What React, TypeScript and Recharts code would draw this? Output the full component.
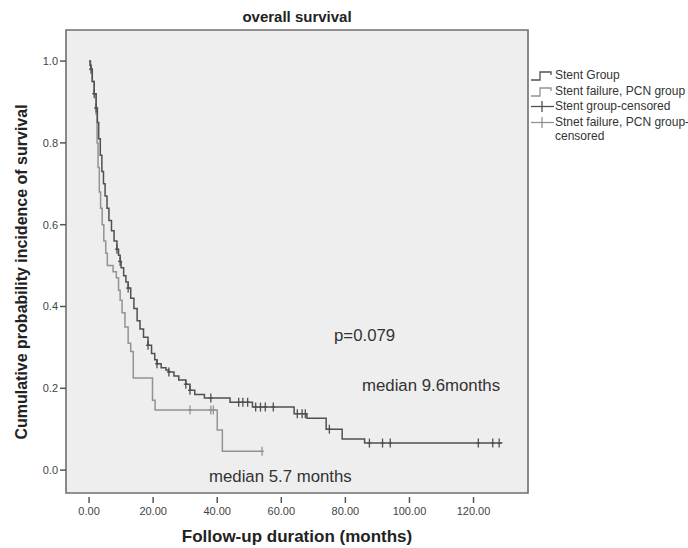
import React from 'react';
import { ComposedChart, Line, Scatter, XAxis, YAxis, CartesianGrid, ReferenceArea } from 'recharts';

// Kaplan-Meier estimates (months, survival probability)
const stentTimes = [0, 0.3, 0.6, 1.0, 1.6, 2.2, 2.6, 3.0, 3.5, 4.0, 4.5, 5.0, 5.6, 6.2, 7.0, 7.8, 8.7, 9.2, 9.7, 10.0, 10.8, 11.5, 12.2, 13.0, 14.0, 15.0, 15.9, 17.0, 18.4, 19.5, 20.5, 21.2, 22.5, 24.0, 24.9, 26.5, 28.0, 30.2, 31.5, 33.0, 36.0, 44.0, 51.0, 64.0, 68.0, 74.0, 79.0, 86.0, 129.0];
const stentSurvival = [1.0, 0.99, 0.98, 0.95, 0.92, 0.885, 0.85, 0.81, 0.77, 0.73, 0.70, 0.67, 0.64, 0.61, 0.585, 0.56, 0.54, 0.525, 0.51, 0.495, 0.475, 0.46, 0.445, 0.42, 0.395, 0.365, 0.345, 0.325, 0.305, 0.285, 0.27, 0.26, 0.25, 0.245, 0.24, 0.23, 0.22, 0.21, 0.195, 0.185, 0.176, 0.166, 0.154, 0.138, 0.127, 0.10, 0.076, 0.066, 0.066];

const pcnTimes = [0, 0.5, 1.0, 1.6, 2.2, 2.5, 2.8, 3.2, 3.6, 4.1, 4.6, 5.2, 5.7, 7.5, 8.5, 9.2, 9.7, 10.3, 11.2, 12.2, 13.0, 13.8, 19.8, 20.6, 40.0, 41.6, 54.0];
const pcnSurvival = [1.0, 0.98, 0.95, 0.92, 0.87, 0.80, 0.74, 0.68, 0.64, 0.60, 0.56, 0.53, 0.50, 0.485, 0.47, 0.44, 0.415, 0.385, 0.35, 0.31, 0.29, 0.225, 0.171, 0.147, 0.098, 0.046, 0.046];

const stentCensorTimes = [0.6, 1.6, 2.2, 8.7, 9.7, 12.2, 18.4, 21.2, 24.9, 30.2, 31.5, 38.0, 46.7, 48.0, 49.5, 52.0, 53.5, 55.0, 57.5, 65.0, 66.5, 67.5, 75.0, 87.5, 91.6, 94.0, 121.5, 126.0, 128.0];
const stentCensorSurvival = [0.98, 0.92, 0.885, 0.54, 0.51, 0.445, 0.305, 0.26, 0.24, 0.21, 0.195, 0.176, 0.166, 0.166, 0.166, 0.154, 0.154, 0.154, 0.154, 0.138, 0.138, 0.138, 0.10, 0.066, 0.066, 0.066, 0.066, 0.066, 0.066];

const pcnCensorTimes = [31.5, 38.0, 38.8, 54.0];
const pcnCensorSurvival = [0.147, 0.147, 0.147, 0.046];

const xTicks = [0, 20, 40, 60, 80, 100, 120];
const yTicks = [0, 0.2, 0.4, 0.6, 0.8, 1.0];

const legendLabels = ['Stent Group', 'Stent failure, PCN group', 'Stent group-censored', 'Stnet failure, PCN group-', 'censored'];

const toRows = (ts: number[], vs: number[]) => ts.map((t, i) => ({ t, v: vs[i] }));
const stentData = toRows(stentTimes, stentSurvival);
const pcnData = toRows(pcnTimes, pcnSurvival);
const stentCensorData = toRows(stentCensorTimes, stentCensorSurvival);
const pcnCensorData = toRows(pcnCensorTimes, pcnCensorSurvival);

const X_MIN = -7.2;
const X_MAX = 137;
const Y_MIN = -0.056;
const Y_MAX = 1.076;

const DARK = '#505050';
const LIGHT = '#939393';
const FONT = '"Liberation Sans", Arial, sans-serif';

const censorShape = (color: string) => (props: any) => {
  const { cx, cy } = props;
  if (cx == null || cy == null) return <g />;
  return (
    <g>
      <line x1={cx} x2={cx} y1={cy - 4.5} y2={cy + 4.5} stroke={color} strokeWidth={1.3} />
      <line x1={cx - 2} x2={cx + 2} y1={cy} y2={cy} stroke={color} strokeWidth={1.3} />
    </g>
  );
};

const XTick = (props: any) => {
  const { x, y, payload } = props;
  return (
    <g>
      <line x1={x} x2={x} y1={y + 4} y2={y + 10} stroke="#555" strokeWidth={1.5} />
      <text x={x} y={y + 22} textAnchor="middle" fontSize={11} fill="#444" fontFamily={FONT}>
        {Number(payload.value).toFixed(2)}
      </text>
    </g>
  );
};

const StepIcon = ({ color }: { color: string }) => (
  <svg width={25} height={13} style={{ display: 'block', flex: 'none' }}>
    <path d="M1,11 H10 V3 H21 V6" stroke={color} strokeWidth={1.3} fill="none" />
  </svg>
);
const CensorIcon = ({ color }: { color: string }) => (
  <svg width={25} height={13} style={{ display: 'block', flex: 'none' }}>
    <line x1={1} x2={24} y1={6.5} y2={6.5} stroke={color} strokeWidth={1.3} />
    <line x1={12} x2={12} y1={1} y2={12} stroke={color} strokeWidth={1.3} />
  </svg>
);

const abs = (left: number, top: number, extra: React.CSSProperties = {}): React.CSSProperties => ({
  position: 'absolute',
  left,
  top,
  fontFamily: FONT,
  color: '#333',
  whiteSpace: 'nowrap',
  ...extra,
});

const rowStyle: React.CSSProperties = { display: 'flex', alignItems: 'center', height: 13, marginBottom: 2.5 };
const textStyle: React.CSSProperties = { whiteSpace: 'nowrap' };

export default function App() {
  return (
    <div style={{ position: 'absolute', left: 0, top: 0, width: 688, height: 548, background: '#fff', overflow: 'hidden' }}>
      <ComposedChart
        width={688}
        height={548}
        margin={{ top: 30, right: 160, bottom: 25, left: 0 }}
      >
        <CartesianGrid fill="#eeeeee" stroke="#e6e6e6" horizontal={false} vertical={false} />
        <XAxis
          dataKey="t"
          type="number"
          domain={[X_MIN, X_MAX]}
          ticks={xTicks}
          allowDataOverflow
          axisLine={false}
          tickLine={false}
          tickSize={0}
          tickMargin={0}
          height={30}
          tick={<XTick />}
        />
        <YAxis
          type="number"
          domain={[Y_MIN, Y_MAX]}
          ticks={yTicks}
          allowDataOverflow
          width={66}
          axisLine={false}
          tickLine={{ stroke: '#555', strokeWidth: 1.5 }}
          tickSize={6}
          tickMargin={2}
          tick={{ fontSize: 11, fill: '#444', fontFamily: FONT }}
          tickFormatter={(v: number) => v.toFixed(1)}
        />
        <Line
          data={pcnData}
          dataKey="v"
          type="stepAfter"
          stroke={LIGHT}
          strokeWidth={1.5}
          dot={false}
          isAnimationActive={false}
        />
        <Line
          data={stentData}
          dataKey="v"
          type="stepAfter"
          stroke={DARK}
          strokeWidth={1.5}
          dot={false}
          isAnimationActive={false}
        />
        <Scatter data={pcnCensorData} dataKey="v" shape={censorShape(LIGHT)} isAnimationActive={false} />
        <Scatter data={stentCensorData} dataKey="v" shape={censorShape(DARK)} isAnimationActive={false} />
        <ReferenceArea
          x1={X_MIN}
          x2={X_MAX}
          y1={Y_MIN}
          y2={Y_MAX}
          ifOverflow="visible"
          fill="none"
          fillOpacity={0}
          stroke="#6f6f6f"
          strokeWidth={1.6}
        />
      </ComposedChart>

      <div style={abs(66, 8, { width: 462, textAlign: 'center', fontSize: 15, lineHeight: '18px', fontWeight: 'bold', color: '#222' })}>
        overall survival
      </div>
      <div style={abs(66, 527, { width: 462, textAlign: 'center', fontSize: 17, lineHeight: '20px', fontWeight: 'bold', color: '#222' })}>
        Follow-up duration (months)
      </div>
      <div
        style={abs(22, 272, {
          fontSize: 16,
          lineHeight: '18px',
          fontWeight: 'bold',
          color: '#222',
          transform: 'translate(-50%, -50%) rotate(-90deg)',
        })}
      >
        Cumulative probability incidence of survival
      </div>

      <div style={abs(334, 326, { fontSize: 16.8, lineHeight: '20px' })}>p=0.079</div>
      <div style={abs(362, 376, { fontSize: 16.8, lineHeight: '20px' })}>median 9.6months</div>
      <div style={abs(209, 467, { fontSize: 16.8, lineHeight: '20px' })}>median 5.7 months</div>

      <div style={abs(530, 69, { width: 158, fontSize: 12, lineHeight: '13px' })}>
        <div style={rowStyle}>
          <StepIcon color={DARK} />
          <span style={textStyle}>{legendLabels[0]}</span>
        </div>
        <div style={rowStyle}>
          <StepIcon color={LIGHT} />
          <span style={textStyle}>{legendLabels[1]}</span>
        </div>
        <div style={rowStyle}>
          <CensorIcon color={DARK} />
          <span style={textStyle}>{legendLabels[2]}</span>
        </div>
        <div style={rowStyle}>
          <CensorIcon color={LIGHT} />
          <span style={textStyle}>{legendLabels[3]}</span>
        </div>
        <div style={{ paddingLeft: 25, lineHeight: '11px' }}>
          <span style={textStyle}>{legendLabels[4]}</span>
        </div>
      </div>
    </div>
  );
}
